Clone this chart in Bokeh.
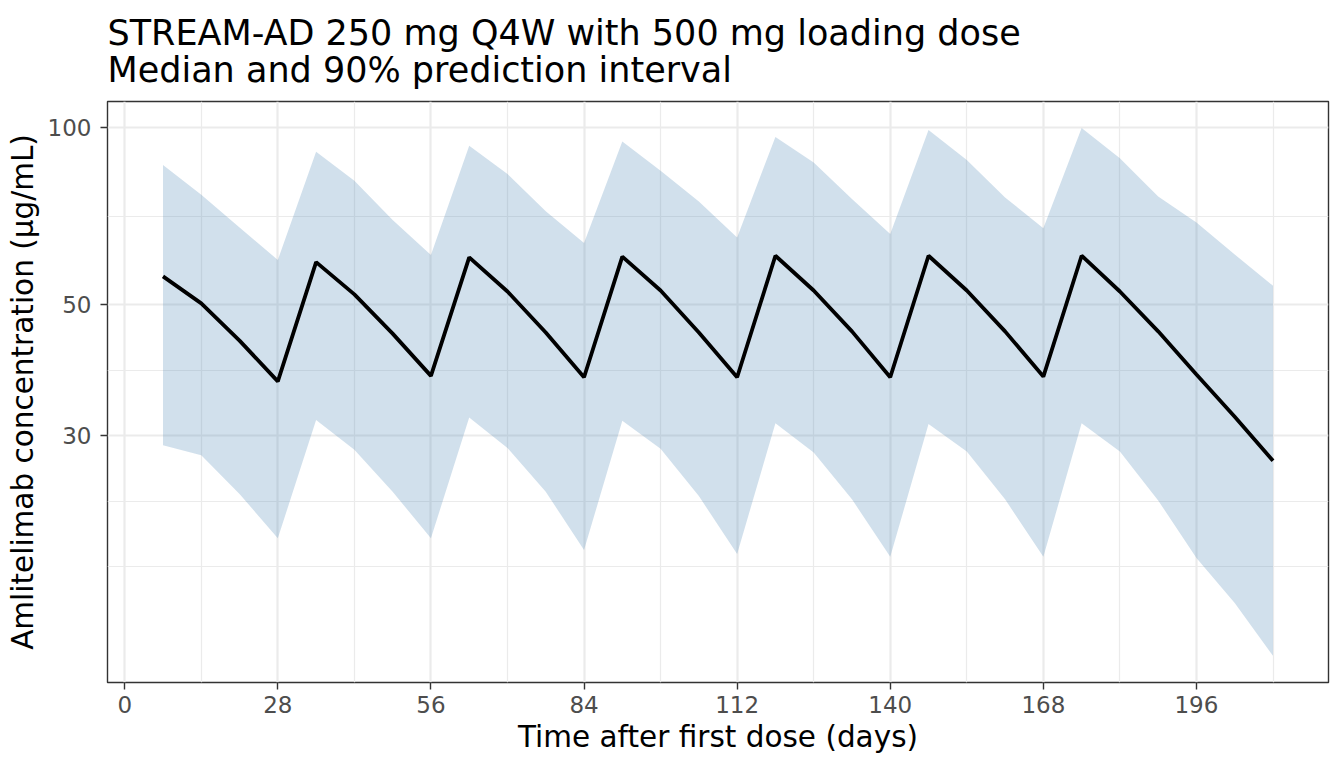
from bokeh.plotting import figure
from bokeh.models import Range1d, FixedTicker, Title, CustomJSTickFormatter
from bokeh.embed import file_html
from bokeh.resources import INLINE

# ---- data ----
days = [7, 14, 21, 28, 35, 42, 49, 56, 63, 70, 77, 84, 91, 98, 105, 112, 119, 126,
        133, 140, 147, 154, 161, 168, 175, 182, 189, 196, 203, 210]
median = [55.9, 50.3, 43.5, 37.1, 59.1, 52.1, 44.7, 37.9, 60.2, 52.7, 44.9, 37.7,
          60.4, 52.9, 44.9, 37.7, 60.6, 52.9, 45.1, 37.7, 60.6, 52.9, 45.1, 37.8,
          60.6, 52.7, 45.1, 38.1, 32.3, 27.2]
upper = [86.4, 76.9, 67.7, 59.6, 91.0, 81.2, 69.7, 60.8, 93.1, 83.4, 72.1, 63.7,
         94.7, 84.5, 74.9, 65.1, 96.4, 87.2, 75.6, 66.0, 99.0, 88.1, 76.1, 67.5,
         99.8, 88.7, 76.4, 69.0, 60.9, 53.9]
lower = [28.9, 27.8, 23.9, 20.1, 31.9, 28.4, 24.1, 20.1, 32.2, 28.6, 24.1, 19.2,
         31.8, 28.5, 23.7, 18.9, 31.5, 28.1, 23.4, 18.7, 31.4, 28.2, 23.4, 18.7,
         31.5, 28.2, 23.3, 18.6, 15.6, 12.7]

x_ticks = [0, 28, 56, 84, 112, 140, 168, 196]
x_minor = [14, 42, 70, 98, 126, 154, 182, 210]
y_ticks = [30, 50, 100]
y_minor = [18.0, 23.24, 38.73, 70.71]

title_lines = ["STREAM-AD 250 mg Q4W with 500 mg loading dose",
               "Median and 90% prediction interval"]
x_label = "Time after first dose (days)"
y_label = "Amlitelimab concentration (µg/mL)"

FONT = "DejaVu Sans"

p = figure(width=1344, height=768, output_backend="svg", toolbar_location=None,
           y_axis_type="log", title=None,
           x_range=Range1d(-3.15, 220.15), y_range=Range1d(11.44, 110.7),
           min_border_left=107, min_border_right=16, min_border_top=101,
           min_border_bottom=86)

p.add_layout(Title(text="\n".join(title_lines), text_font=FONT,
                   text_font_size="35px", text_font_style="normal",
                   text_color="black", text_line_height=0.92,
                   align="left", vertical_align="top", standoff=19), "above")

p.background_fill_color = "white"
p.border_fill_color = "white"
p.outline_line_color = "#333333"
p.outline_line_width = 1.4

for g in (p.xgrid, p.ygrid):
    g.grid_line_color = "#EBEBEB"
    g.grid_line_width = 2.2
    g.minor_grid_line_color = "#EBEBEB"
    g.minor_grid_line_width = 1.2

p.xaxis.ticker = FixedTicker(ticks=x_ticks, minor_ticks=x_minor)
p.yaxis.ticker = FixedTicker(ticks=y_ticks, minor_ticks=y_minor)
p.xgrid.ticker = p.xaxis.ticker
p.ygrid.ticker = p.yaxis.ticker
p.yaxis.formatter = CustomJSTickFormatter(code="return tick.toFixed(0);")

for ax in (p.xaxis, p.yaxis):
    ax.axis_line_color = None
    ax.major_tick_line_color = "#333333"
    ax.major_tick_line_width = 1.4
    ax.major_tick_out = 7
    ax.major_tick_in = 0
    ax.minor_tick_line_color = None
    ax.major_label_text_font = FONT
    ax.major_label_text_font_size = "23px"
    ax.major_label_text_color = "#4D4D4D"
    ax.axis_label_text_font = FONT
    ax.axis_label_text_font_size = "29.5px"
    ax.axis_label_text_font_style = "normal"
    ax.axis_label_text_color = "black"

p.xaxis.axis_label = x_label
p.yaxis.axis_label = y_label
p.xaxis.major_label_standoff = 6
p.xaxis.axis_label_standoff = 4
p.yaxis.major_label_standoff = 9
p.yaxis.axis_label_standoff = 5

p.varea(x=days, y1=lower, y2=upper, fill_color="steelblue", fill_alpha=0.25)
p.line(x=days, y=median, line_color="black", line_width=3.8)

open("out.html", "w").write(file_html(p, INLINE))
